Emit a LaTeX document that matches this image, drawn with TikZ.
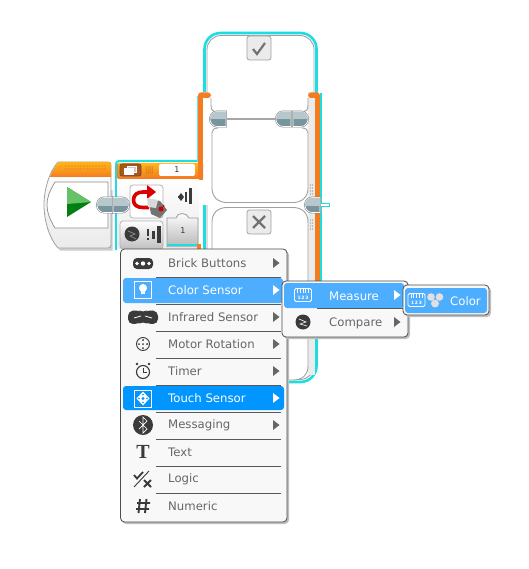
\documentclass[tikz,border=0pt]{standalone}
\usepackage{fontspec}
\setmainfont{DejaVu Sans}
\newfontfamily\serifT{Liberation Serif}
\definecolor{orng}{HTML}{F47B20}
\definecolor{cyn}{HTML}{1BDDE2}
\definecolor{pdark}{HTML}{78959D}
\definecolor{plight}{HTML}{B7C8CD}
\definecolor{sel}{HTML}{4DAEFF}
\definecolor{selb}{HTML}{0095FF}
\definecolor{mfill}{HTML}{F8F8F8}
\definecolor{mtxt}{HTML}{666666}
\definecolor{icn}{HTML}{3A3A3A}
\definecolor{edge}{HTML}{A0A0A0}
\definecolor{ambr}{HTML}{FFB31A}
\tikzset{
 menubox/.style={draw=black!70,line width=0.8pt,fill=mfill,rounded corners=4pt},
 shadowbox/.style={fill=black!25,rounded corners=4pt},
 seprule/.style={draw=black!65,line width=0.7pt},
 itemtext/.style={anchor=west,inner sep=0pt,text=mtxt,font=\fontsize{11.7}{13}\selectfont},
 seltext/.style={itemtext,text=white},
 frameline/.style={draw=edge,line width=0.9pt},
 tabbox/.style={draw=edge,line width=0.8pt,fill=black!8,rounded corners=2.5pt},
 marrow/.style={fill=mtxt},
 warrow/.style={fill=white},
 valtext/.style={inner sep=0pt,font=\fontsize{8}{9}\selectfont,text=black!80},
}
\newcommand\portshape[3]{(#2,#3-7.5) -- (#1+\sgn*7,#3-7.5) .. controls (#1+\sgn*3,#3-7.5) and (#1,#3-4) .. (#1,#3) .. controls (#1,#3+4) and (#1+\sgn*3,#3+7.5) .. (#1+\sgn*7,#3+7.5) -- (#2,#3+7.5) -- cycle}
\newcommand\dataport[3]{%
 \pgfmathsetmacro\sgn{#2>#1?1:-1}%
 \draw[draw=black!50,line width=1.8pt,fill=pdark] \portshape{#1}{#2}{#3};
 \draw[draw=white,line width=0.7pt,fill=pdark] \portshape{#1}{#2}{#3};
 \begin{scope}\clip (#1-\sgn,#3-8) rectangle (#2+\sgn,#3);
 \fill[plight] \portshape{#1}{#2}{#3};
 \end{scope}}
\newcommand\marr[3]{\fill[#3] (#1,#2-5) -- (#1+6.5,#2) -- (#1,#2+5) -- cycle;}
\newcommand\rulericon[2]{%
 \draw[white,line width=0.9pt,rounded corners=1.5pt] (#1-8.5,#2-6.5) rectangle (#1+8.5,#2+6.5);
 \foreach \k in {-5.5,-2.75,0,2.75,5.5}{\draw[white,line width=0.7pt] (#1+\k,#2-6.5) -- (#1+\k,#2-2.5);}
 \node[inner sep=0pt,text=white,font=\fontsize{4.5}{5}\selectfont\bfseries] at (#1,#2+2.5) {1\,2\,3};}
\begin{document}
\begin{tikzpicture}[x=1pt,y=-1pt]
\useasboundingbox (0,0) rectangle (528,569);
\fill[white] (0,0) rectangle (528,569);
% --- switch frame
\draw[cyn,line width=2.6pt,fill=white,rounded corners=16pt] (204.5,33) rectangle (316.5,382);
\draw[edge,line width=0.9pt,rounded corners=14pt] (207,35.5) rectangle (314,379.5);
% right side strip
\fill[black!8] (308,92) rectangle (315,375);
% orange uprights and cyan rim
\draw[cyn,line width=1.8pt] (321,93) -- (321,282);
\fill[white] (203,92) rectangle (212,205);
\draw[cyn!70,line width=0.7pt] (197.3,96) -- (197.3,162);
\fill[orng,rounded corners=3pt] (198,92.5) rectangle (211,98);
\fill[orng] (198,95) rectangle (203,180);
\fill[orng,rounded corners=3pt] (308,92.5) rectangle (320,98);
\fill[orng] (314.5,95) rectangle (320,282);
% upper case
\fill[white] (212,98) rectangle (308,125);
\draw[frameline] (211,98) -- (211,105) .. controls (211,110) and (213,112) .. (216,112);
\draw[frameline] (308,98) -- (308,105) .. controls (308,110) and (306,112) .. (303,112);
% sequence wire
\coordinate (wirea) at (226,119);
\coordinate (wireb) at (276,119);
\draw[black!35,line width=2.4pt] (wirea) -- (wireb);
% lower cases
\fill[white] (212,126) -- (212,188) .. controls (212,197) and (218,202.5) .. (227,202.5) -- (293,202.5) .. controls (302,202.5) and (308,197) .. (308,188) -- (308,126) -- cycle;
\draw[frameline] (218,128) .. controls (214,128) and (212,130) .. (212,133) -- (212,188) .. controls (212,197) and (218,202.5) .. (227,202.5) -- (293,202.5) .. controls (302,202.5) and (308,197) .. (308,188) -- (308,133) .. controls (308,130) and (306,128) .. (302,128);
\draw[frameline,fill=white] (212,300) -- (212,222) .. controls (212,213) and (218,207.5) .. (227,207.5) -- (293,207.5) .. controls (302,207.5) and (308,213) .. (308,222) -- (308,366) .. controls (308,375) and (302,380) .. (293,380) -- (227,380);
% grips
\foreach \yy in {185,188,191,194,220,223,226,229}{\fill[black!45] (310.5,\yy) circle (0.6) (312.5,\yy) circle (0.6);}
% tabs
\node[tabbox,minimum width=24pt,minimum height=24pt,inner sep=0pt] (tabyes) at (259,48) {};
\draw[black!55,line width=2.2pt] (253,49) -- (257,54) -- (265,43);
\node[tabbox,minimum width=24pt,minimum height=24pt,inner sep=0pt] (tabno) at (259,222) {};
\draw[black!55,line width=2.2pt] (253,216) -- (265,228) (265,216) -- (253,228);
% --- start block
\fill[black!20] (48,205) .. controls (48,225) and (52,240) .. (60,250.5) -- (112.5,250.5) -- (112.5,190) -- cycle;
\path[draw=edge,line width=0.8pt,top color=white,bottom color=black!8] (44,205) .. controls (44,190) and (49,172) .. (58,162) -- (108,162) .. controls (110,162) and (111,163) .. (111,165) -- (111,245) .. controls (111,247) and (110,248) .. (108,248) -- (58,248) .. controls (49,238) and (44,220) .. (44,205) -- cycle;
\path[top color=ambr,bottom color=orng,middle color=ambr!60!orng] (50,177) .. controls (52,171) and (55,166) .. (59,162) -- (108,162) .. controls (110,162) and (111,163) .. (111,165) -- (111,177) -- cycle;
\foreach \xa in {66,69,...,105}{\foreach \ya in {166,169}{\fill[orng!85!black] (\xa,\ya) circle (0.55);}}
\draw[black!45,line width=0.7pt,fill=white] (108,182) -- (55,182) .. controls (49,192) and (47,198) .. (47,205) .. controls (47,212) and (50,220) .. (55,228) -- (108,228) -- cycle;
\fill[green!50!black!85!teal] (67,187) -- (91,202) -- (67,217) -- cycle;
\fill[green!60!black!60!white] (67,187) -- (91,202) -- (67,204) -- cycle;
% --- switch block head
\draw[cyn,line width=2pt,rounded corners=3pt] (116,250) -- (116,161) -- (197,161);
\path[top color=white,bottom color=black!8] (117,176) rectangle (199,248);
\fill[orng,rounded corners=2pt] (117,163) rectangle (203,179);
\path[top color=ambr,bottom color=orng] (118,164) rectangle (198,178);
\fill[white,rounded corners=2pt] (159,164) rectangle (195,176);
\node[valtext] (hval) at (177,170) {1};
\draw[black!70,fill=orng!70!black,rounded corners=2pt,line width=0.6pt] (120,164) rectangle (141,176);
\draw[white,fill=black!20,line width=0.6pt] (127,166) rectangle (136,172);
\draw[white,fill=white,line width=0.6pt] (124,168) rectangle (133,174);
\foreach \xa in {146,148,150,152}{\foreach \ya in {167,169,171,173}{\fill[black!45!orng] (\xa,\ya) circle (0.5);}}
% mode button
\draw[black!30,line width=0.8pt,fill=white,rounded corners=3pt] (130,185) rectangle (163,218);
\draw[red!85!black,line width=3.6pt] (150,192) -- (143,192) .. controls (137,192) and (133.5,195) .. (133.5,200) .. controls (133.5,205) and (137,207.5) .. (143,207.5) -- (149,207.5);
\fill[red!85!black] (147,185) -- (156,192) -- (147,199) -- cycle;
\fill[black!55] (148,199) -- (160,201) -- (167,210) -- (160,218) -- (151,214) -- cycle;
\fill[black!15] (147,198) -- (158,200) -- (156,208) -- (148,207) -- cycle;
\fill[red!80!black] (161,209) circle (2.5);
\fill[red!80!black] (163.5,206) circle (1.2);
% compare button
\path[draw=black!30,line width=0.8pt,top color=white,bottom color=black!25,rounded corners=3pt] (120,221) rectangle (163,249);
\fill[icn] (132,234) circle (7.5);
\draw[black!40,line width=0.6pt] (128,231) -- (135,234) -- (130,236) -- (136,239);
\fill[icn] (146.5,229) rectangle (148.5,236);
\fill[icn] (146.5,238) rectangle (148.5,240);
\fill[icn] (152,231) rectangle (155,239);
\fill[icn] (157,226) rectangle (161,243);
% input icon
\fill[icn] (178,197) -- (181,193) -- (184,197) -- (181,201) -- cycle;
\draw[icn,line width=1pt] (178,197) -- (183,197);
\fill[icn] (185,192) rectangle (187,202);
\fill[icn] (188.5,188) rectangle (192,204);
% value plug
\path[draw=black!40,line width=0.8pt,top color=white,bottom color=black!28] (167,247) -- (167,218) -- (176,218) .. controls (177,212) and (187,212) .. (189,218) -- (198,218) -- (198,247);
\node[valtext] (pval) at (183,231) {1};
\draw[cyn,line width=1.4pt] (167,245) -- (197,245);
\fill[orng] (197,244) rectangle (201,249);
% --- ports
\dataport{97}{113}{205}
\dataport{129}{113}{205}
\dataport{210}{226}{119}
\dataport{276}{291}{119}
\dataport{308}{293}{119}
\draw[cyn,line width=3.6pt] (318,205) -- (330,205);
\draw[white,line width=1.5pt] (318,205) -- (329,205);
\dataport{305}{320}{205}
% --- main menu
\fill[shadowbox] (122,251) rectangle (289,524);
\path[menubox] (120.5,249) rectangle (287,522);
\fill[sel,rounded corners=3pt] (123,278) rectangle (283,303);
\fill[selb,rounded corners=3pt] (123,386) rectangle (284,410);
\foreach \yy in {277,304,331,358,385,412,439,466,493}{\draw[seprule] (156,\yy) -- (281,\yy);}
\node[itemtext] (m1) at (168,263.5) {Brick Buttons};
\node[seltext] (m2) at (168,290.5) {Color Sensor};
\node[itemtext] (m3) at (168,317.5) {Infrared Sensor};
\node[itemtext] (m4) at (168,344.5) {Motor Rotation};
\node[itemtext] (m5) at (168,371.5) {Timer};
\node[seltext] (m6) at (168,398.5) {Touch Sensor};
\node[itemtext] (m7) at (168,425.5) {Messaging};
\node[itemtext] (m8) at (168,452.5) {Text};
\node[itemtext] (m9) at (168,479.5) {Logic};
\node[itemtext] (m10) at (168,506.5) {Numeric};
\marr{273}{263}{marrow}\marr{273}{290}{warrow}\marr{273}{317}{marrow}
\marr{273}{344}{marrow}\marr{273}{371}{marrow}\marr{273}{398}{warrow}\marr{273}{425}{marrow}
% icons
\fill[icn,rounded corners=4pt] (133,258) rectangle (153,269);
\foreach \xa/\ra in {137/1.8,143/2.2,149/1.8}{\fill[white] (\xa,263.5) circle (\ra);}
\draw[white,line width=1pt] (134.5,281.5) rectangle (151,298.5);
\fill[white] (143,288) circle (4);
\fill[white] (141,290) rectangle (145,294);
\fill[sel] (141.5,294.5) rectangle (144.5,295.5);
\fill[icn,rounded corners=5pt] (128,311) -- (138,310) -- (143,313) -- (148,310) -- (158,311) -- (158,324) -- (148,324) -- (143,321) -- (138,324) -- (128,324) -- cycle;
\draw[white,line width=0.8pt] (134,318) -- (141,316) (145,316) -- (152,318);
\draw[icn,line width=0.9pt] (143,344) circle (6.5);
\foreach \da/\db in {0/-4,0/4,-4/0,4/0,0/0}{\fill[icn] (143+\da,344+\db) circle (1);}
\draw[icn,line width=1.1pt] (143,372) circle (6.5);
\draw[icn,line width=1pt] (143,368) -- (143,372) -- (147,372);
\fill[icn] (137,364) circle (1.3) (149,364) circle (1.3);
\draw[white,line width=1pt] (134.5,390) rectangle (151,407);
\fill[white] (143,391.5) -- (149.5,398.5) -- (143,405.5) -- (136.5,398.5) -- cycle;
\fill[selb] (143,398.5) circle (1.6) (139,398.5) circle (0.8) (147,398.5) circle (0.8) (143,394.5) circle (0.8) (143,402.5) circle (0.8);
\fill[icn] (143,425) circle (10);
\draw[white,line width=0.7pt] (139,421) -- (147,429) -- (143,433) -- (143,417) -- (147,421) -- (139,429);
\node[inner sep=0pt,text=icn,font=\serifT\bfseries\fontsize{20}{20}\selectfont] (textT) at (143,452) {T};
\draw[icn,line width=1.8pt] (134,475) -- (137,478.5) -- (143,472);
\draw[icn,line width=0.9pt] (134,487) -- (149,471);
\draw[icn,line width=1.8pt] (144,480) -- (151,487) (151,480) -- (144,487);
\draw[icn,line width=1.9pt] (140,499) -- (138.5,513) (146.5,499) -- (145,513) (137,503) -- (150,503) (136,509) -- (149,509);
% --- submenu
\fill[shadowbox] (284,283) rectangle (410,339);
\path[menubox] (282,281) rectangle (408,337);
\fill[sel,rounded corners=3pt] (284,283) rectangle (404,308);
\draw[seprule] (317,308.5) -- (405,308.5);
\rulericon{303}{295}
\node[seltext] (s1) at (329,296) {Measure};
\fill[icn] (303,322) circle (7.5);
\draw[white,line width=0.6pt] (299,319) -- (306,322) -- (300,324) -- (307,326);
\node[itemtext] (s2) at (329,323) {Compare};
\marr{394}{295}{warrow}\marr{394}{322}{marrow}
% --- sub-submenu
\fill[shadowbox] (405,287) rectangle (491,317);
\path[menubox] (403,285) rectangle (489,315);
\fill[sel,rounded corners=3pt] (405,288) rectangle (487,313);
\rulericon{416.5}{300}
\fill[black!12] (431,297) circle (3.8);
\fill[black!12] (439.5,297) circle (3.8);
\fill[black!12] (435,303.5) circle (4);
\node[seltext] (c1) at (450,301) {Color};
\end{tikzpicture}
\end{document}
